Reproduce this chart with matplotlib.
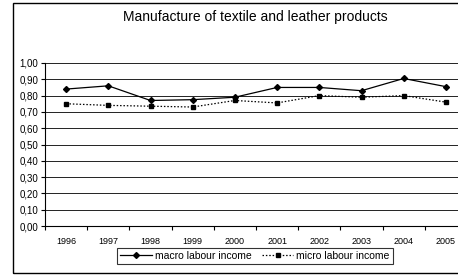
import matplotlib
matplotlib.use("Agg")
import matplotlib.pyplot as plt
from matplotlib.patches import Rectangle
from matplotlib.ticker import FuncFormatter, FixedLocator, NullFormatter

plt.rcParams['font.family'] = ['Liberation Sans', 'DejaVu Sans']

years = ['1996', '1997', '1998', '1999', '2000', '2001', '2002', '2003', '2004', '2005']
macro = [0.84, 0.86, 0.77, 0.775, 0.79, 0.85, 0.85, 0.83, 0.905, 0.855]
micro = [0.75, 0.74, 0.735, 0.73, 0.77, 0.755, 0.80, 0.79, 0.80, 0.76]

fig = plt.figure(figsize=(4.58, 2.75), dpi=100)
ax = fig.add_axes([45 / 458, 1 - 226 / 275, 422 / 458, 163 / 275])

x = list(range(len(years)))
ax.plot(x, macro, color='black', linewidth=0.9, marker='D', markersize=3,
        label='macro labour income')
ax.plot(x, micro, color='black', linewidth=0.9, linestyle=(0, (1.2, 1.5)),
        marker='s', markersize=3.5, label='micro labour income')

ax.set_xlim(-0.5, 9.5)
ax.set_ylim(0, 1.0)
ax.set_yticks([i / 10 for i in range(11)])
ax.yaxis.set_major_formatter(FuncFormatter(lambda v, p: f"{v:.2f}".replace('.', ',')))
ax.yaxis.grid(True, color='#222222', linewidth=0.7)
ax.set_axisbelow(True)

ax.xaxis.set_major_locator(FixedLocator([i - 0.5 for i in range(11)]))
ax.xaxis.set_major_formatter(NullFormatter())
ax.xaxis.set_minor_locator(FixedLocator(x))
ax.set_xticklabels(years, minor=True)
ax.tick_params(axis='x', which='minor', length=0, labelsize=6.5, pad=8)
ax.tick_params(axis='x', which='major', length=3, width=0.8, direction='out')
ax.tick_params(axis='y', length=3, width=0.8, labelsize=7, pad=2)

for side in ['top', 'right']:
    ax.spines[side].set_visible(False)
ax.spines['left'].set_linewidth(0.8)
ax.spines['bottom'].set_linewidth(0.8)

fig.text(255 / 458, 1 - 17 / 275, 'Manufacture of textile and leather products',
         ha='center', va='center', fontsize=10)

leg = fig.legend(loc='center', bbox_to_anchor=(255 / 458, 1 - 256 / 275),
                 ncol=2, frameon=True, fontsize=7.5, handlelength=3,
                 columnspacing=1.0, handletextpad=0.3, borderpad=0.3,
                 fancybox=False)
leg.get_frame().set_edgecolor('black')
leg.get_frame().set_linewidth(0.8)

fig.patches.append(Rectangle((13 / 458, 1 - 273 / 275), 1.0, 270 / 275,
                             transform=fig.transFigure, fill=False,
                             edgecolor='black', linewidth=1.0))

fig.savefig('out.png', dpi=100)
